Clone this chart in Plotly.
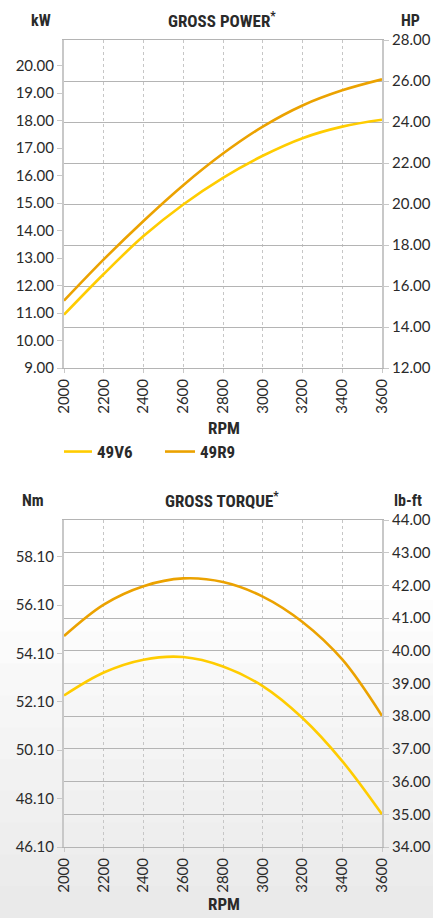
import plotly.graph_objects as go

rpm = [2000, 2200, 2400, 2600, 2800, 3000, 3200, 3400, 3600]
power_49v6_kw = [10.94, 12.42, 13.80, 14.95, 15.92, 16.72, 17.36, 17.78, 18.03]
power_49r9_kw = [11.45, 12.95, 14.35, 15.65, 16.80, 17.78, 18.55, 19.10, 19.50]
torque_49v6_nm = [52.36, 53.31, 53.84, 53.95, 53.56, 52.75, 51.43, 49.65, 47.45]
torque_49r9_nm = [54.82, 56.12, 56.88, 57.20, 57.05, 56.45, 55.40, 53.85, 51.52]

kw_ticks = [9, 10, 11, 12, 13, 14, 15, 16, 17, 18, 19, 20]
hp_ticks = [12, 14, 16, 18, 20, 22, 24, 26, 28]
nm_ticks = [46.1, 48.1, 50.1, 52.1, 54.1, 56.1, 58.1]
lbft_ticks = [34, 35, 36, 37, 38, 39, 40, 41, 42, 43, 44]
rpm_ticks = [2000, 2200, 2400, 2600, 2800, 3000, 3200, 3400, 3600]

YELLOW = "#FFCC00"
ORANGE = "#EBA200"
GRID = "#b4b4b4"
VGRID = "#c6c6c6"
AXIS = "#c8c8c8"
TXT = "#2a2a2a"
NUMFONT = "Lato, Roboto, sans-serif"
TITLEFONT = "Liberation Sans Narrow, Roboto Condensed, Roboto, sans-serif"

W, H = 433, 918
ML, MR, MT, MB = 64, 51, 40, 71
PH = H - MT - MB

def py(Y):
    return (H - MB - Y) / PH

def px(X):
    return (X - ML) / (W - ML - MR)

fig = go.Figure()
line_common = dict(width=2.6, shape="spline", smoothing=1.0)
fig.add_trace(go.Scatter(x=rpm, y=power_49v6_kw, name="49V6", mode="lines",
                         line=dict(color=YELLOW, **line_common),
                         xaxis="x", yaxis="y"))
fig.add_trace(go.Scatter(x=rpm, y=power_49r9_kw, name="49R9", mode="lines",
                         line=dict(color=ORANGE, **line_common),
                         xaxis="x", yaxis="y"))
fig.add_trace(go.Scatter(x=rpm, y=torque_49v6_nm, name="49V6", mode="lines",
                         line=dict(color=YELLOW, **line_common),
                         xaxis="x2", yaxis="y3", showlegend=False))
fig.add_trace(go.Scatter(x=rpm, y=torque_49r9_nm, name="49R9", mode="lines",
                         line=dict(color=ORANGE, **line_common),
                         xaxis="x2", yaxis="y3", showlegend=False))
# invisible traces to activate the right-hand axes
fig.add_trace(go.Scatter(x=[rpm[0]], y=[hp_ticks[0]], mode="markers", marker=dict(opacity=0),
                         xaxis="x", yaxis="y2", showlegend=False, hoverinfo="skip"))
fig.add_trace(go.Scatter(x=[rpm[0]], y=[lbft_ticks[0]], mode="markers", marker=dict(opacity=0),
                         xaxis="x2", yaxis="y4", showlegend=False, hoverinfo="skip"))

top_dom = [py(368), 1.0]
bot_dom = [0.0, py(520)]

xcommon = dict(range=[2000, 3600], tickvals=rpm_ticks, tickangle=-90, automargin=False,
               showgrid=True, gridcolor=VGRID, griddash="dot", gridwidth=1,
               showline=True, mirror=True, linecolor=GRID, linewidth=1,
               ticks="outside", ticklen=4, tickcolor=AXIS,
               tickfont=dict(family=NUMFONT, size=15, color=TXT),
               zeroline=False)

ycommon = dict(tickformat=".2f", zeroline=False, automargin=False,
               showline=True, linecolor=AXIS, linewidth=2,
               ticks="outside", ticklen=5, tickcolor=AXIS,
               tickfont=dict(family=NUMFONT, size=15, color=TXT))

fig.update_layout(
    width=W, height=H,
    margin=dict(l=ML, r=MR, t=MT, b=MB, autoexpand=False),
    paper_bgcolor="white", plot_bgcolor="rgba(0,0,0,0)",
    xaxis=dict(domain=[0, 1], anchor="y", **xcommon),
    xaxis2=dict(domain=[0, 1], anchor="y3", **xcommon),
    yaxis=dict(domain=top_dom, range=[9, 9 + 16 / 1.341], tickvals=kw_ticks,
               showgrid=False, **ycommon),
    yaxis2=dict(overlaying="y", side="right", anchor="x", range=[12, 28], tickvals=hp_ticks,
                showgrid=True, gridcolor=GRID, gridwidth=1, **ycommon),
    yaxis3=dict(domain=bot_dom, anchor="x2", range=[46.1, 46.1 + 10 * 1.3514], tickvals=nm_ticks,
                showgrid=False, **ycommon),
    yaxis4=dict(overlaying="y3", side="right", anchor="x2", range=[34, 44], tickvals=lbft_ticks,
                showgrid=True, gridcolor=GRID, gridwidth=1, **ycommon),
    legend=dict(orientation="h", x=0, xanchor="left", y=py(452), yanchor="middle",
                font=dict(family=TITLEFONT, size=17, color=TXT, weight="bold"),
                bgcolor="rgba(0,0,0,0)", entrywidth=65, entrywidthmode="pixels",
                indentation=-7, tracegroupgap=0),
    showlegend=True,
    hovermode=False,
)

# light gray textured background in the lower part (approximated with soft bands)
shapes = []
grays = ["#fdfdfd", "#fbfbfb", "#f8f8f8", "#f6f6f6", "#f4f4f4", "#f2f2f2",
         "#f0f0f0", "#eeeeee", "#ececec", "#eaeaea"]
y_start, y_end = 600, 918
step = (y_end - y_start) / len(grays)
for i, c in enumerate(grays):
    y0 = y_start + i * step
    y1 = y0 + step + 1
    shapes.append(dict(type="rect", xref="paper", yref="paper", x0=px(0), x1=px(W),
                       y0=py(min(y1, H)), y1=py(y0), fillcolor=c, line=dict(width=0),
                       layer="below"))
fig.update_layout(shapes=shapes)

def ann(text, X, Y, size=16, font=TITLEFONT, bold=True):
    fig.add_annotation(text=text, x=px(X), y=py(Y), xref="paper", yref="paper",
                       showarrow=False, xanchor="center", yanchor="middle",
                       font=dict(family=font, size=size, color=TXT,
                                 weight="bold" if bold else "normal"))

ann("kW", 41, 20)
ann("GROSS POWER<sup>*</sup>", 222, 20, size=17)
ann("HP", 410, 20)
ann("RPM", 224, 428, size=17)
ann("Nm", 33, 500)
ann("GROSS TORQUE<sup>*</sup>", 222, 500, size=17)
ann("lb-ft", 408, 500)
ann("RPM", 224, 904, size=17)

fig.write_html("out.html",
               config={"displayModeBar": False, "staticPlot": True},
               post_script="document.body.style.margin='0';document.body.style.overflow='hidden';")
